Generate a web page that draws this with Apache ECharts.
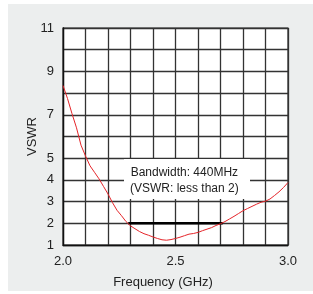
<!DOCTYPE html>
<html><head><meta charset="utf-8">
<script src="https://cdn.jsdelivr.net/npm/echarts@6/dist/echarts.min.js"></script>
<style>html,body{margin:0;padding:0;background:#fff}#c{width:313px;height:294px}</style>
</head><body><div id="c"></div>
<script>
const freq = [2.00,2.02,2.04,2.06,2.08,2.10,2.12,2.14,2.16,2.18,2.20,2.22,2.24,2.26,2.28,2.30,2.32,2.34,2.36,2.38,2.40,2.42,2.44,2.46,2.48,2.50,2.52,2.54,2.56,2.58,2.60,2.62,2.64,2.66,2.68,2.70,2.72,2.74,2.76,2.78,2.80,2.82,2.84,2.86,2.88,2.90,2.92,2.94,2.96,2.98,3.00];
const vswr = [8.35,7.75,7.05,6.4,5.6,5.1,4.65,4.35,4.05,3.7,3.35,2.95,2.6,2.35,2.08,1.88,1.75,1.62,1.52,1.45,1.37,1.3,1.24,1.22,1.25,1.3,1.36,1.43,1.5,1.53,1.58,1.66,1.73,1.8,1.9,1.98,2.08,2.2,2.32,2.45,2.58,2.68,2.78,2.88,2.97,3.02,3.12,3.28,3.45,3.65,3.88];
const bandFreq = [2.29, 2.71];
const bandVswr = [2, 2];
const yLabels = [1,2,3,4,5,7,9,11];
const xLabels = [2.0,2.5,3.0];
const noteLines = ['Bandwidth: 440MHz','(VSWR: less than 2)'];

const font = '"Liberation Sans", Arial, sans-serif';
const chart = echarts.init(document.getElementById('c'), null, {renderer:'canvas'});
chart.setOption({
  animation:false,
  backgroundColor:'#fff',
  graphic:[
    {type:'rect', z:-100, silent:true, shape:{x:8,y:4,width:305,height:287}, style:{fill:'#eceeee'}},
    {type:'rect', z:50, silent:true, shape:{x:124,y:159,width:126,height:40}, style:{fill:'#fff'}},
    {type:'text', z:51, silent:true, left:130, top:165, style:{text:noteLines.join('\n'), font:'12px '+font, fill:'#222', lineHeight:16, textAlign:'center', x:57}}
  ],
  grid:{left:63,right:25,top:28,bottom:49,show:true,backgroundColor:'#fff',borderColor:'#222',borderWidth:1.2},
  xAxis:{type:'value',min:2,max:3,interval:0.1,
    name:'Frequency (GHz)',nameLocation:'middle',nameGap:31,
    nameTextStyle:{fontFamily:font,fontSize:13,color:'#222',padding:[0,25,0,0]},
    axisLine:{lineStyle:{color:'#111',width:1.3}},axisTick:{show:false},
    axisLabel:{fontFamily:font,fontSize:13,color:'#222',margin:10,
      formatter:v=>{const f=xLabels.find(x=>Math.abs(x-v)<1e-6);return f!==undefined?f.toFixed(1):'';}},
    splitLine:{show:true,lineStyle:{color:'#333',width:1.3}}},
  yAxis:{type:'value',min:1,max:11,interval:1,
    name:'VSWR',nameLocation:'middle',nameGap:24,nameRotate:90,nameMoveOverlap:false,
    nameTextStyle:{fontFamily:font,fontSize:13,color:'#222'},
    axisLine:{lineStyle:{color:'#111',width:1.3}},axisTick:{show:false},
    axisLabel:{fontFamily:font,fontSize:13,color:'#222',margin:9,
      formatter:v=>yLabels.indexOf(Math.round(v))>=0?String(Math.round(v)):''},
    splitLine:{show:true,lineStyle:{color:'#333',width:1.3}}},
  series:[
    {type:'line',data:freq.map((f,i)=>[f,vswr[i]]),showSymbol:false,
      lineStyle:{color:'#e5252a',width:1},z:5},
    {type:'line',data:bandFreq.map((f,i)=>[f,bandVswr[i]]),showSymbol:false,
      lineStyle:{color:'#000',width:2.5},z:4}
  ]
});
</script></body></html>
